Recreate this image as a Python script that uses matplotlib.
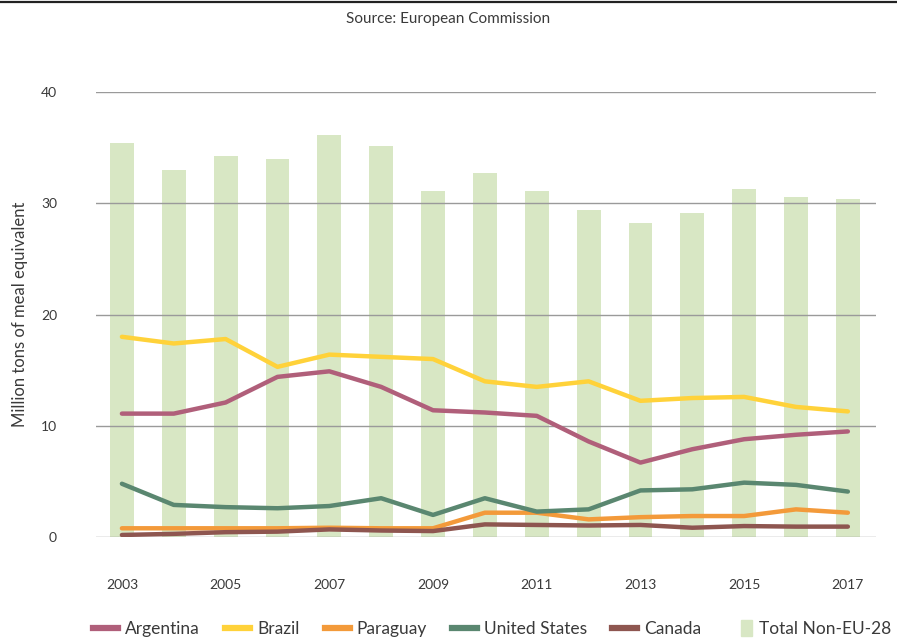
import matplotlib.pyplot as plt
from matplotlib.lines import Line2D
from matplotlib.patches import Patch, Rectangle
from matplotlib.legend_handler import HandlerPatch

plt.rcParams['font.family'] = ['Lato', 'DejaVu Sans']

years = list(range(2003, 2018))
total_non_eu = [35.4, 33.0, 34.2, 34.0, 36.1, 35.1, 31.1, 32.7, 31.1, 29.4, 28.2, 29.1, 31.3, 30.6, 30.4]
argentina = [11.1, 11.1, 12.1, 14.4, 14.9, 13.5, 11.4, 11.2, 10.9, 8.6, 6.7, 7.9, 8.8, 9.2, 9.5]
brazil = [18.0, 17.4, 17.8, 15.3, 16.4, 16.2, 16.0, 14.0, 13.5, 14.0, 12.25, 12.5, 12.6, 11.7, 11.3]
paraguay = [0.8, 0.8, 0.8, 0.8, 0.85, 0.8, 0.8, 2.2, 2.2, 1.6, 1.8, 1.9, 1.9, 2.5, 2.2]
united_states = [4.8, 2.9, 2.7, 2.6, 2.8, 3.5, 2.0, 3.5, 2.3, 2.5, 4.2, 4.3, 4.9, 4.7, 4.1]
canada = [0.2, 0.3, 0.45, 0.5, 0.7, 0.6, 0.55, 1.15, 1.1, 1.05, 1.1, 0.85, 1.0, 0.95, 0.95]

series = [
    ('Argentina', argentina, '#B05F7A'),
    ('Brazil', brazil, '#FFD23A'),
    ('Paraguay', paraguay, '#F39A3A'),
    ('United States', united_states, '#5A8770'),
    ('Canada', canada, '#8E5650'),
]
bar_color = '#D8E7C4'
text_color = '#3a3a3a'


def narrow_square(legend, orig_handle, xdescent, ydescent, width, height, fontsize):
    # small square sitting at the right end of the handle slot
    w = height * 0.85
    return Rectangle((width - w - xdescent, -ydescent - height * 0.15), w, height * 1.3)


fig = plt.figure(figsize=(8.97, 6.38), dpi=100)
ax = fig.add_axes([0.107, 0.158, 0.870, 0.698])

ax.bar(years, total_non_eu, width=0.46, color=bar_color, zorder=1)
for name, vals, color in series:
    ax.plot(years, vals, color=color, lw=3.2, solid_capstyle='round',
            solid_joinstyle='round', zorder=3)

ax.set_xlim(2002.5, 2017.55)
ax.set_ylim(0, 40)
ax.set_yticks([0, 10, 20, 30, 40])
ax.set_xticks(years[::2])
for s in ax.spines.values():
    s.set_visible(False)
ax.yaxis.grid(True, color='#9a9a9a', lw=1.0, zorder=2)
ax.set_axisbelow(False)
ax.tick_params(axis='both', length=0, labelsize=10, labelcolor=text_color)
ax.tick_params(axis='y', pad=28)
ax.tick_params(axis='x', pad=30)
ax.set_ylabel('Million tons of meal equivalent', fontsize=12, color=text_color, labelpad=9)

fig.text(0.5, 0.970, 'Source: European Commission', ha='center', va='center',
         fontsize=11, color=text_color)
fig.add_artist(Line2D([0, 1], [0.997, 0.997], color='#222222', lw=1.6))

handles = [Line2D([], [], color=c, lw=4.5) for _, _, c in series]
handles.append(Patch(color=bar_color))
labels = [n for n, _, _ in series] + ['Total Non-EU-28']
fig.legend(handles, labels, loc='center left', bbox_to_anchor=(0.104, 0.014),
           ncol=6, frameon=False, fontsize=12.5, handlelength=1.44,
           handletextpad=0.4, columnspacing=1.45, borderpad=0, borderaxespad=0,
           labelcolor=text_color,
           handler_map={Patch: HandlerPatch(patch_func=narrow_square)})

fig.savefig('out.png', dpi=100)
